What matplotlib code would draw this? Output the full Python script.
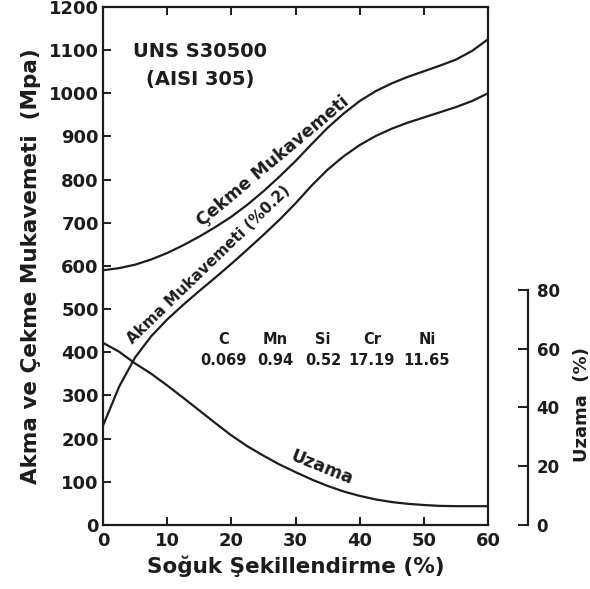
import matplotlib.pyplot as plt

# cold work (%) vs. strength (MPa) and elongation (%)
soguk = [0, 2.5, 5, 7.5, 10, 12.5, 15, 17.5, 20, 22.5, 25, 27.5, 30,
         32.5, 35, 37.5, 40, 42.5, 45, 47.5, 50, 52.5, 55, 57.5, 60]
cekme = [590, 595, 603, 615, 630, 648, 668, 690, 714, 742, 773, 807, 843,
         882, 920, 953, 982, 1005, 1023, 1038, 1051, 1064, 1078, 1098, 1125]
akma = [230, 320, 388, 437, 476, 510, 542, 573, 605, 638, 672, 707, 745,
        786, 823, 854, 880, 901, 918, 932, 944, 956, 968, 982, 1000]
uzama = [62, 59, 55, 51.5, 47.5, 43.3, 39, 34.7, 30.5, 26.8, 23.6, 20.6, 18,
         15.5, 13.3, 11.4, 9.9, 8.7, 7.8, 7.2, 6.8, 6.5, 6.4, 6.4, 6.4]

elements = ['C', 'Mn', 'Si', 'Cr', 'Ni']
amounts = ['0.069', '0.94', '0.52', '17.19', '11.65']

ink = '#1c1c1c'
plt.rcParams['font.family'] = 'DejaVu Sans'
plt.rcParams['font.weight'] = 'bold'
plt.rcParams['axes.labelweight'] = 'bold'

fig = plt.figure(figsize=(5.9, 5.89), dpi=100)
ax = fig.add_axes([0.1746, 0.1087, 0.6525, 0.8795])

ax.plot(soguk, cekme, color=ink, lw=1.6, solid_joinstyle='round')
ax.plot(soguk, akma, color=ink, lw=1.6, solid_joinstyle='round')

ax.set_xlim(0, 60)
ax.set_ylim(0, 1200)
ax.set_xticks(range(0, 70, 10))
ax.set_yticks(range(0, 1300, 100))
ax.tick_params(axis='both', direction='in', length=6, width=1.4, colors=ink,
               labelsize=13, pad=3)
ax.tick_params(axis='x', top=True, pad=5)
for sp in ax.spines.values():
    sp.set_linewidth(1.6)
    sp.set_color(ink)

ax.set_ylabel('Akma ve Çekme Mukavemeti  (Mpa)', fontsize=15.5, color=ink, labelpad=6)
ax.set_xlabel('Soğuk Şekillendirme (%)', fontsize=15.5, color=ink, labelpad=4)

# elongation on its own scale, spine shifted to the right
ax2 = ax.twinx()
ax2.plot(soguk, uzama, color=ink, lw=1.6, solid_joinstyle='round')
top80 = 80 / ((525 - 290) / 518)
ax2.set_ylim(0, top80)
ax2.set_yticks(range(0, 100, 20))
ax2.spines['right'].set_position(('outward', 29))
ax2.spines['right'].set_bounds(0, 80)
ax2.spines['right'].set_linewidth(1.6)
ax2.spines['right'].set_color(ink)
for s in ['top', 'left', 'bottom']:
    ax2.spines[s].set_visible(False)
ax2.tick_params(axis='y', direction='in', length=7, width=1.4, colors=ink,
                labelsize=12, pad=6)
ax2.text(1.245, 80 / top80 / 2 + 0.005, 'Uzama  (%)', transform=ax2.transAxes,
         rotation=90, ha='center', va='center', fontsize=13, color=ink)

# curve labels
ax.text(26.5, 842, 'Çekme Mukavemeti', rotation=40, ha='center', va='center',
        fontsize=12.5, color=ink)
ax.text(16.4, 602, 'Akma Mukavemeti (%0.2)', rotation=44, ha='center', va='center',
        fontsize=11, color=ink)
ax.text(34.1, 132, 'Uzama', rotation=-22, ha='center', va='center',
        fontsize=12.5, color=ink)

ax.text(15.1, 1096, 'UNS S30500', ha='center', va='center', fontsize=14, color=ink)
ax.text(15.1, 1033, '(AISI 305)', ha='center', va='center', fontsize=14, color=ink)

# chemical composition
col_x = [18.8, 26.8, 34.3, 41.9, 50.5]
for cx, el, amt in zip(col_x, elements, amounts):
    ax.text(cx, 430, el, ha='center', va='center', fontsize=10.5, color=ink)
    ax.text(cx, 380, amt, ha='center', va='center', fontsize=10.5, color=ink)

fig.savefig('out.png', dpi=100, facecolor='white')
